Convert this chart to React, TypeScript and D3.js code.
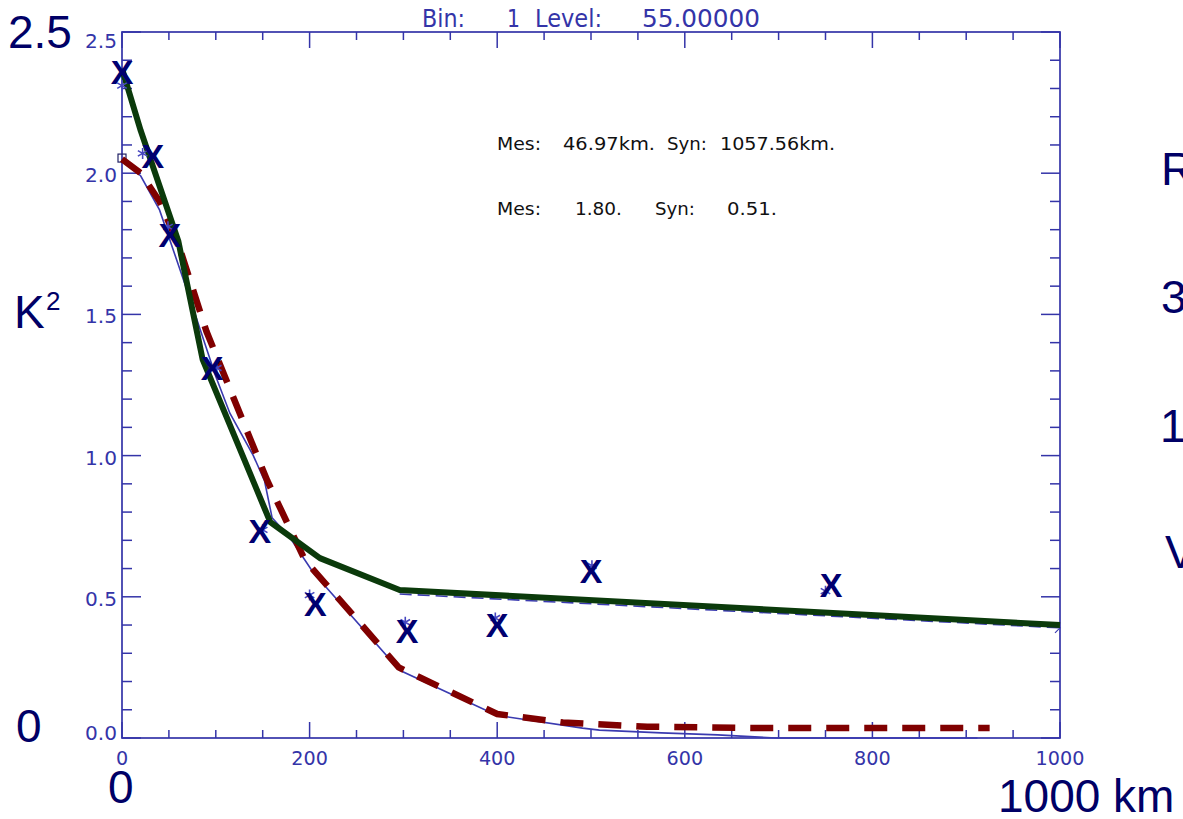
import React from "react";
import * as d3 from "d3";

// Binned measured values (X markers)
const binLag = [0, 33, 51, 96, 147, 206, 304, 400, 500, 756];
const binVal = [2.358, 2.061, 1.781, 1.31, 0.733, 0.475, 0.379, 0.4, 0.591, 0.542];
// Raw points (small asterisks)
const rawLag = [0, 22, 49, 101, 150, 200, 302, 398, 501, 750];
const rawVal = [2.31, 2.07, 1.81, 1.31, 0.737, 0.506, 0.41, 0.425, 0.61, 0.52];
// Green thick model curve
const greenLag = [0, 20, 60, 86, 158, 211, 296, 1000];
const greenVal = [2.37, 2.15, 1.76, 1.34, 0.765, 0.637, 0.524, 0.4];
// Red dashed model curve
const redLag = [0, 20, 40, 60, 90, 155, 195, 295, 400, 470, 560, 680, 925];
const redVal = [2.05, 2.0, 1.9, 1.75, 1.44, 0.91, 0.63, 0.25, 0.085, 0.055, 0.04, 0.035, 0.035];
// Thin blue curve following the red one
const blueLag = [0, 20, 40, 72, 100, 115, 140, 152, 160, 179, 204, 296, 400, 491, 509, 575, 635, 697, 912];
const blueVal = [2.05, 1.99, 1.87, 1.56, 1.28, 1.15, 1.0, 0.91, 0.78, 0.71, 0.585, 0.24, 0.08, 0.035, 0.028, 0.018, 0.011, 0.0, 0.0];
// Thin blue dashed curve under the green one
const blueDashLag = [296, 1000];
const blueDashVal = [0.51, 0.39];

const xTicks = [0, 200, 400, 600, 800, 1000];
const yTicks = [0, 0.5, 1.0, 1.5, 2.0, 2.5];
const yTickLabels = ["0.0", "0.5", "1.0", "1.5", "2.0", "2.5"];

const title = ["Bin:", "1", "Level:", "55.00000"];
const line1 = ["Mes:", "46.97km.", "Syn:", "1057.56km."];
const line2 = ["Mes:", "1.80.", "Syn:", "0.51."];

const AX = "#3434a8";
const NAVY = "#000066";

export default function App() {
  const x = d3.scaleLinear().domain([0, 1000]).range([122, 1060]);
  const y = d3.scaleLinear().domain([0, 2.5]).range([738, 32]);
  const line = d3
    .line<[number, number]>()
    .x((d) => x(d[0]))
    .y((d) => y(d[1]));
  const zip = (a: number[], b: number[]) => a.map((v, i) => [v, b[i]] as [number, number]);

  const minorX = d3.range(0, 1001, 50);
  const minorY = d3.range(0, 26, 1).map((v) => v / 10);

  const big = { fontFamily: "Liberation Sans, Arial, sans-serif", fontSize: 46, fill: NAVY } as const;
  const small = { fontFamily: "DejaVu Sans, sans-serif", fill: AX } as const;

  const titlePos = [
    [422, 43],
    [507, 13],
    [535, 67],
    [642, 118],
  ];
  const l1Pos = [
    [497, 44],
    [563, 92],
    [667, 40],
    [720, 115],
  ];
  const l2Pos = [
    [497, 44],
    [575, 47],
    [655, 40],
    [727, 50],
  ];

  return (
    <div style={{ position: "absolute", left: 0, top: 0 }}>
      <svg width={1183} height={819} style={{ display: "block", background: "#fff" }}>
        {/* frame */}
        <rect x={x(0)} y={y(2.5)} width={x(1000) - x(0)} height={y(0) - y(2.5)} fill="none" stroke={AX} strokeWidth={1.7} />
        {/* x ticks bottom & top */}
        {minorX.map((v) => {
          const major = v % 200 === 0;
          const len = major ? 16 : 8;
          return (
            <g key={"xt" + v}>
              <line x1={x(v)} x2={x(v)} y1={y(0)} y2={y(0) - len} stroke={AX} strokeWidth={1.5} />
              <line x1={x(v)} x2={x(v)} y1={y(2.5)} y2={y(2.5) + len} stroke={AX} strokeWidth={1.5} />
            </g>
          );
        })}
        {minorY.map((v, i) => {
          const major = i % 5 === 0;
          const len = major ? 19 : 10;
          return (
            <g key={"yt" + i}>
              <line x1={x(0)} x2={x(0) + len} y1={y(v)} y2={y(v)} stroke={AX} strokeWidth={1.5} />
              <line x1={x(1000)} x2={x(1000) - len} y1={y(v)} y2={y(v)} stroke={AX} strokeWidth={1.5} />
            </g>
          );
        })}
        {/* tick labels */}
        {xTicks.map((v) => (
          <text key={"xl" + v} x={x(v)} y={765} textAnchor="middle" fontSize={19} {...small}
            textLength={String(v).length * 12.2} lengthAdjust="spacingAndGlyphs">
            {String(v)}
          </text>
        ))}
        {yTicks.map((v, i) => {
          const off = i === 0 ? 2 : i === yTicks.length - 1 ? 16 : 9;
          return (
            <text key={"yl" + i} x={117} y={y(v) + off} textAnchor="end" fontSize={19} {...small}
              textLength={32} lengthAdjust="spacingAndGlyphs">
              {yTickLabels[i]}
            </text>
          );
        })}
        {/* title */}
        {title.map((t, i) => (
          <text key={"ti" + i} x={titlePos[i][0]} y={27} fontSize={25} {...small}
            textLength={titlePos[i][1]} lengthAdjust="spacingAndGlyphs">
            {t}
          </text>
        ))}
        {/* annotations */}
        {line1.map((t, i) => (
          <text key={"a1" + i} x={l1Pos[i][0]} y={150} fontSize={18} fontFamily="DejaVu Sans, sans-serif" fill="#111"
            textLength={l1Pos[i][1]} lengthAdjust="spacingAndGlyphs">
            {t}
          </text>
        ))}
        {line2.map((t, i) => (
          <text key={"a2" + i} x={l2Pos[i][0]} y={215} fontSize={18} fontFamily="DejaVu Sans, sans-serif" fill="#111"
            textLength={l2Pos[i][1]} lengthAdjust="spacingAndGlyphs">
            {t}
          </text>
        ))}

        {/* thin blue curves */}
        <path d={line(zip(blueLag, blueVal)) || ""} fill="none" stroke="#3a3ab0" strokeWidth={1.6} />
        <path d={line(zip(blueDashLag, blueDashVal)) || ""} fill="none" stroke="#3a3ab0" strokeWidth={1.6} strokeDasharray="12,6" />
        <path
          d={`M${x(1000) - 5},${y(blueDashVal[1]) - 5} L${x(1000)},${y(blueDashVal[1])} L${x(1000) - 5},${y(blueDashVal[1]) + 5}`}
          fill="none" stroke="#3a3ab0" strokeWidth={1.2} />
        {/* start symbol */}
        <rect x={x(0) - 4} y={y(redVal[0]) - 5} width={8} height={8} fill="none" stroke="#222266" strokeWidth={1.2} />

        {/* red dashed */}
        <path d={line(zip(redLag, redVal)) || ""} fill="none" stroke="#800000" strokeWidth={6.5} strokeDasharray="23,15" />
        {/* green */}
        <path d={line(zip(greenLag, greenVal)) || ""} fill="none" stroke="#0b3a0b" strokeWidth={6} strokeLinejoin="round" />

        {/* asterisks */}
        {rawLag.map((v, i) => {
          const cx = x(v), cy = y(rawVal[i]);
          const r = 5.5;
          const d = [0, 60, 120]
            .map((a) => {
              const t = (a * Math.PI) / 180 + Math.PI / 2;
              return `M${cx - r * Math.cos(t)},${cy - r * Math.sin(t)}L${cx + r * Math.cos(t)},${cy + r * Math.sin(t)}`;
            })
            .join("");
          return <path key={"as" + i} d={d} stroke="#4848c0" strokeWidth={1.6} fill="none" />;
        })}
        {/* X markers */}
        {binLag.map((v, i) => (
          <text key={"x" + i} x={x(v)} y={y(binVal[i]) + 12} textAnchor="middle" fontFamily="Liberation Sans, Arial, sans-serif"
            fontWeight="bold" fontSize={34} fill="#000070">
            X
          </text>
        ))}

        {/* big slide labels */}
        <text x={8} y={48} {...big}>2.5</text>
        <text x={14} y={328} {...big}>K</text>
        <text x={46} y={310} {...big} fontSize={26}>2</text>
        <text x={16} y={742} {...big}>0</text>
        <text x={108} y={803} {...big}>0</text>
        <text x={998} y={812} {...big}>1000 km</text>
        <text x={1161} y={185} {...big}>R</text>
        <text x={1161} y={313} {...big}>3</text>
        <text x={1160} y={442} {...big}>1</text>
        <text x={1165} y={568} {...big}>V</text>
      </svg>
    </div>
  );
}
